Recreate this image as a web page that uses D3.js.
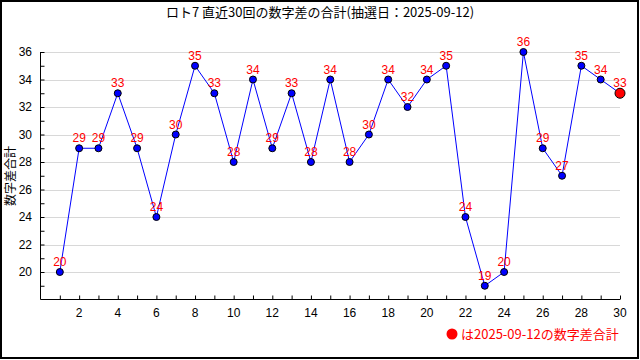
<!DOCTYPE html>
<html>
<head>
<meta charset="utf-8">
<script src="https://cdn.jsdelivr.net/npm/d3@7"></script>
<style>
  body { margin: 0; background: #fff; }
  svg { display: block; }
</style>
</head>
<body>
<svg width="640" height="360"></svg>
<script>
let svg = d3.select("svg");

// data
let titleText = "ロト7 直近30回の数字差の合計(抽選日：2025-09-12)";
let yTitle = "数字差合計";
let legendText = "は2025-09-12の数字差合計";
let draws = d3.range(1, 31);
let diffSum = [20, 29, 29, 33, 29, 24, 30, 35, 33, 28, 34, 29, 33, 28, 34, 28, 30, 34, 32, 34, 35, 24, 19, 20, 36, 29, 27, 35, 34, 33];
let yTicks = [20, 22, 24, 26, 28, 30, 32, 34, 36];
let xTicks = [2, 4, 6, 8, 10, 12, 14, 16, 18, 20, 22, 24, 26, 28, 30];

let aux = { left: 40.5, right: 620, top: 52, bottom: 299.5 };

let x = d3.scaleLinear().domain([0, 30]).range([aux.left, aux.right]);
let y = d3.scaleLinear().domain([18, 36]).range([aux.bottom, aux.top]);

let jp = "'Noto Sans CJK JP', sans-serif";
let sans = "'Liberation Sans', Arial, sans-serif";

// frame
svg.append("rect")
  .attr("x", 1).attr("y", 1).attr("width", 637).attr("height", 357)
  .attr("fill", "none").attr("stroke", "#000").attr("stroke-width", 2);

// title
svg.append("text")
  .attr("x", 320).attr("y", 17)
  .attr("text-anchor", "middle")
  .attr("font-family", jp).attr("font-size", 13)
  .text(titleText);

// grid
svg.append("g")
  .selectAll("line")
  .data(yTicks)
  .join("line")
  .attr("x1", aux.left).attr("x2", aux.right)
  .attr("y1", d => Math.round(y(d)) + 0.5).attr("y2", d => Math.round(y(d)) + 0.5)
  .attr("stroke", "#d8d8d8");

// y axis
let yAxis = svg.append("g")
  .attr("transform", `translate(${aux.left},0)`)
  .call(d3.axisRight(y).tickValues(d3.range(19, 37)).tickSize(4).tickFormat(""));
yAxis.select(".domain").remove();
yAxis.selectAll("line").attr("stroke", "#000");
svg.append("line")
  .attr("x1", aux.left).attr("x2", aux.left)
  .attr("y1", aux.top).attr("y2", aux.bottom)
  .attr("stroke", "#000");
svg.append("g")
  .selectAll("text")
  .data(yTicks)
  .join("text")
  .attr("x", 32).attr("y", d => y(d) + 4)
  .attr("text-anchor", "end")
  .attr("font-family", sans).attr("font-size", 12)
  .text(d => d);

// x axis
let xAxis = svg.append("g")
  .attr("transform", `translate(0,${aux.bottom})`)
  .call(d3.axisTop(x).tickValues(d3.range(1, 31)).tickSize(4).tickFormat(""));
xAxis.select(".domain").remove();
xAxis.selectAll("line").attr("stroke", "#000");
svg.append("line")
  .attr("x1", aux.left).attr("x2", aux.right)
  .attr("y1", aux.bottom).attr("y2", aux.bottom)
  .attr("stroke", "#000");
svg.append("g")
  .selectAll("text")
  .data(xTicks)
  .join("text")
  .attr("x", d => x(d)).attr("y", 317)
  .attr("text-anchor", "middle")
  .attr("font-family", sans).attr("font-size", 12)
  .text(d => d);

// y title
svg.append("text")
  .attr("transform", `translate(15,176) rotate(-90)`)
  .attr("text-anchor", "middle")
  .attr("font-family", jp).attr("font-size", 12)
  .text(yTitle);

// line
svg.append("path")
  .datum(diffSum)
  .attr("fill", "none")
  .attr("stroke", "#0000ff")
  .attr("stroke-width", 1)
  .attr("d", d3.line().x((_, i) => x(draws[i])).y(d => y(d)));

// points
svg.append("g")
  .selectAll("circle")
  .data(diffSum)
  .join("circle")
  .attr("cx", (_, i) => x(draws[i]))
  .attr("cy", d => y(d))
  .attr("r", (_, i) => i == diffSum.length - 1 ? 5 : 3.5)
  .attr("fill", (_, i) => i == diffSum.length - 1 ? "#ff0000" : "#0000ff")
  .attr("stroke", "#000")
  .attr("stroke-width", 1);

// value labels
svg.append("g")
  .selectAll("text")
  .data(diffSum)
  .join("text")
  .attr("x", (_, i) => x(draws[i]))
  .attr("y", d => y(d) - 6)
  .attr("text-anchor", "middle")
  .attr("font-family", sans).attr("font-size", 12)
  .attr("fill", "#ff0000")
  .text(d => d);

// legend
svg.append("circle")
  .attr("cx", 452).attr("cy", 334).attr("r", 5.5)
  .attr("fill", "#ff0000");
svg.append("text")
  .attr("x", 461).attr("y", 339)
  .attr("font-family", jp).attr("font-size", 13)
  .attr("fill", "#ff0000")
  .text(legendText);
</script>
</body>
</html>
